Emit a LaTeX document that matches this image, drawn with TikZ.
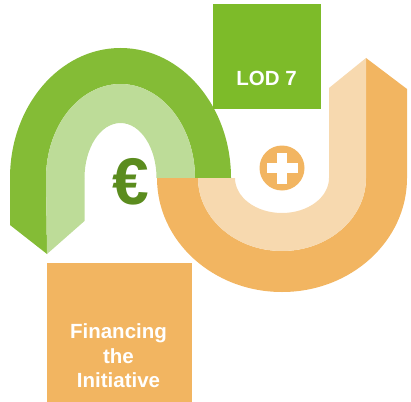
\documentclass[tikz,border=0pt]{standalone}
\usepackage{fontspec}
\setmainfont{Liberation Sans}
\definecolor{gdark}{HTML}{84BC36}
\definecolor{glight}{HTML}{BDDC98}
\definecolor{odark}{HTML}{F2B561}
\definecolor{olight}{HTML}{F7D9AF}
\definecolor{lodg}{HTML}{7DBB29}
\definecolor{eurog}{HTML}{5B8C1E}
\begin{document}
\begin{tikzpicture}[x=1pt,y=-1pt,
  box/.style={draw=none,inner sep=0pt,minimum width=#1},
  label/.style={text=white,font=\fontsize{20.5}{24.5}\selectfont\bfseries,align=center,inner sep=0pt}]
\useasboundingbox (0,0) rectangle (411,401);
% green arch
\fill[gdark] (10,178) arc[start angle=180,end angle=360,x radius=110.5,y radius=130]
  -- (195,178) arc[start angle=360,end angle=180,x radius=74.5,y radius=94] -- cycle;
\fill[glight] (46,178) arc[start angle=180,end angle=360,x radius=74.5,y radius=94]
  -- (156.5,178) arc[start angle=360,end angle=180,x radius=36,y radius=55] -- cycle;
% green leg
\fill[gdark] (10,178) -- (10,225) -- (47,254) -- (46,178) -- cycle;
\fill[glight] (46,178) -- (47,254) -- (84.5,221) -- (84.5,178) -- cycle;
% orange U
\fill[odark] (157,178) arc[start angle=180,end angle=0,x radius=125,y radius=114]
  -- (407,89) -- (366,58) -- (366,178)
  arc[start angle=0,end angle=180,x radius=84,y radius=73] -- cycle;
\fill[olight] (198,178) arc[start angle=180,end angle=0,x radius=84,y radius=73]
  -- (366,58) -- (329,88) -- (329,178)
  arc[start angle=0,end angle=180,x radius=47,y radius=35] -- cycle;
% boxes
\node[box=108pt,minimum height=105pt,fill=lodg] (lod) at (267,56.5) {};
\node[label] (lodtext) at (266.5,78) {LOD 7};
\node[box=145pt,minimum height=140pt,fill=odark] (fin) at (119.5,333) {};
\node[label] (fintext) at (118.5,356) {Financing\\the\\Initiative};
% euro
\node[text=eurog,font=\fontsize{66}{66}\selectfont\bfseries,inner sep=0pt] (euro) at (131,182) {€};
% plus in circle
\fill[odark] (282,168) circle[radius=22.5];
\fill[white] (266.5,162.8) rectangle (297.5,173.2);
\fill[white] (276.8,152.5) rectangle (287.2,183.5);
\end{tikzpicture}
\end{document}
